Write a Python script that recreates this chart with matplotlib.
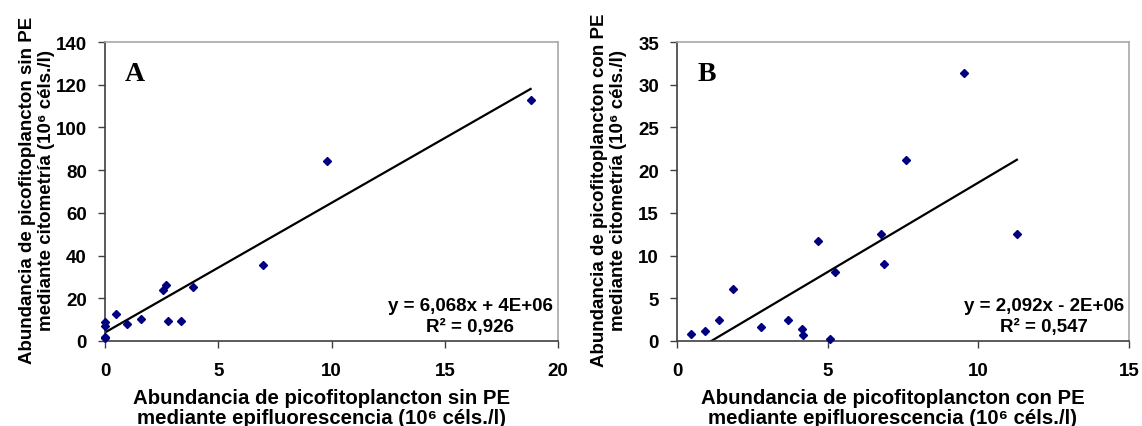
import numpy as np
import matplotlib
matplotlib.use("Agg")
import matplotlib.pyplot as plt

plt.rcParams["font.family"] = ["Liberation Sans", "DejaVu Sans"]
plt.rcParams["font.weight"] = "bold"

# Panel A: picoplankton without PE (10^6 cells/l)
a_epi = [0.0, 0.0, 0.0, 0.0, 0.48, 0.97, 1.59, 2.58, 2.71, 2.80, 3.37, 3.90, 6.99, 9.79, 18.79]
a_cyto = [1.5, 2.0, 6.9, 8.7, 12.6, 7.8, 10.2, 24.0, 26.2, 9.3, 9.3, 25.4, 35.5, 84.1, 113.0]
a_slope, a_icpt = 6.068, 4.0
a_eq = "y = 6,068x + 4E+06\nR\u00b2 = 0,926"

# Panel B: picoplankton with PE
b_epi = [0.48, 0.94, 1.39, 1.86, 2.78, 3.69, 4.16, 4.17, 4.69, 5.07, 5.23, 6.76, 6.87, 7.61, 9.54, 11.28]
b_cyto = [0.78, 1.14, 2.5, 6.08, 1.61, 2.51, 1.37, 0.67, 11.65, 0.2, 8.08, 12.55, 8.98, 21.18, 31.38, 12.55]
b_slope, b_icpt = 2.092, -2.38
b_eq = "y = 2,092x - 2E+06\nR\u00b2 = 0,547"

a_xlabel = "Abundancia de picofitoplancton sin PE\nmediante epifluorescencia (10\u2076 c\u00e9ls./l)"
a_ylabel = "Abundancia de picofitoplancton sin PE\nmediante citometr\u00eda (10\u2076 c\u00e9ls./l)"
b_xlabel = "Abundancia de picofitoplancton con PE\nmediante epifluorescencia (10\u2076 c\u00e9ls./l)"
b_ylabel = "Abundancia de picofitoplancton con PE\nmediante citometr\u00eda (10\u2076 c\u00e9ls./l)"

fig = plt.figure(figsize=(11.42, 4.27), dpi=100)
ax_a = fig.add_axes([105 / 1142, 85 / 427, 453 / 1142, 299 / 427])
ax_b = fig.add_axes([677 / 1142, 85 / 427, 452 / 1142, 299 / 427])


def draw_panel(ax, xs, ys, slope, icpt, eq, xlim, xstep, ylim, ystep, letter, xl, yl, eq_x):
    ax.plot(xs, ys, "D", color="#000080", markersize=4, zorder=3, clip_on=False)
    xx = np.array([min(xs), max(xs)])
    ax.plot(xx, slope * xx + icpt, color="black", lw=1.6, zorder=2)
    ax.set_xlim(*xlim)
    ax.set_ylim(*ylim)
    ax.set_xticks(np.arange(xlim[0], xlim[1] + 0.1, xstep))
    ax.set_yticks(np.arange(ylim[0], ylim[1] + 0.1, ystep))
    for s in ["top", "right"]:
        ax.spines[s].set_color("#a8a8a8")
        ax.spines[s].set_linewidth(1.2)
    for s in ["left", "bottom"]:
        ax.spines[s].set_color("#404040")
        ax.spines[s].set_linewidth(1.2)
    ax.tick_params(axis="both", direction="out", length=5, width=1, color="#404040",
                   labelsize=13.5)
    ax.tick_params(axis="x", pad=10)
    ax.tick_params(axis="y", pad=8)
    for t in ax.get_xticklabels() + ax.get_yticklabels():
        t.set_fontweight("bold")
    ax.text(0.066, 0.896, letter, transform=ax.transAxes, fontsize=20, fontweight="bold",
            family="Liberation Serif", ha="center", va="center")
    ax.text(eq_x, 0.084, eq, transform=ax.transAxes, fontsize=13.5, fontweight="bold",
            ha="center", va="center", multialignment="center", linespacing=1.3)
    ax.set_xlabel(xl, fontsize=14.7, fontweight="bold", linespacing=1.12)
    ax.xaxis.set_label_coords(0.477, -0.156)
    ax.xaxis.label.set_va("top")
    ax.set_ylabel(yl, fontsize=13.5, fontweight="bold", linespacing=1.2)
    ax.yaxis.set_label_coords(-0.110, 0.508)


draw_panel(ax_a, a_epi, a_cyto, a_slope, a_icpt, a_eq, (0, 20), 5, (0, 140), 20, "A",
           a_xlabel, a_ylabel, (470 - 105) / 453)
draw_panel(ax_b, b_epi, b_cyto, b_slope, b_icpt, b_eq, (0, 15), 5, (0, 35), 5, "B",
           b_xlabel, b_ylabel, (1044 - 677) / 452)

fig.savefig("out.png", dpi=100)
